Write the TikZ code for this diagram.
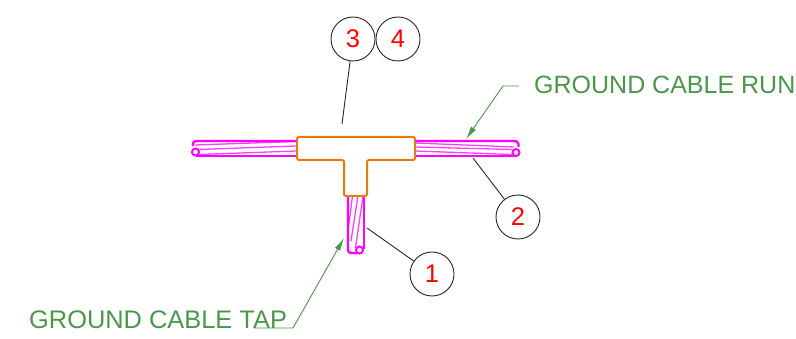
\documentclass[tikz,border=0pt]{standalone}
\usepackage{fontspec}
\setmainfont{Liberation Sans}
\usetikzlibrary{arrows.meta}
\definecolor{leadgreen}{RGB}{76,150,76}
\definecolor{fitorange}{RGB}{232,120,16}
\definecolor{cablemag}{RGB}{255,0,255}
\tikzset{
  x=1pt,y=-1pt,
  balloon/.style={circle,draw=black!85,line width=0.9pt,minimum size=44pt,inner sep=0pt,text=red,font=\fontsize{25.5}{25}\selectfont},
  leader/.style={draw=black!85,line width=0.9pt},
  callout/.style={text=leadgreen,font=\fontsize{25}{25}\selectfont,inner sep=0pt,anchor=base west},
  greenline/.style={draw=leadgreen,line width=0.9pt},
  greenarrow/.style={greenline,-{Latex[length=13pt,width=6pt]}},
  cableedge/.style={draw=cablemag,line width=2.4pt,line join=round},
  strand/.style={draw=cablemag!75,line width=1.3pt},
  ringend/.style={draw=cablemag,line width=2pt},
  fitting/.style={draw=fitorange,line width=2pt,line join=round,rounded corners=1.5pt}
}
\begin{document}
\begin{tikzpicture}
\useasboundingbox (0,0) rectangle (796,339);
% left cable
\draw[strand] (195,145) -- (296,141.5);
\draw[strand] (198,149.5) -- (296,146);
\draw[strand] (199,154.5) -- (296,151);
\draw[cableedge] (296,141) -- (197,141) .. controls (193.5,141) and (192.5,143) .. (193,146);
\draw[cableedge] (296,156) -- (196,156);
\draw[ringend] (195.5,152) circle[radius=3.5];
% right cable
\draw[strand] (415,143) -- (514,147);
\draw[strand] (415,147) -- (512,149.5);
\draw[strand] (415,151) -- (512,154.5);
\draw[cableedge] (415,141) -- (514,141) .. controls (517.5,141) and (519,143) .. (518.5,147);
\draw[cableedge] (415,156) -- (516,156);
\draw[ringend] (516,152.5) circle[radius=3.5];
% tap cable
\draw[strand] (352.5,196) -- (348.5,227);
\draw[strand] (358,196) -- (351,241);
\draw[strand] (363,196) -- (355.5,248);
\draw[cableedge] (348,196) -- (348,250) .. controls (348,252.5) and (349.5,253) .. (352,253) -- (358,253);
\draw[cableedge] (364,196) -- (364,249);
\draw[ringend] (359.5,250) circle[radius=3.5];
% T fitting
\draw[fitting] (297,137) -- (415,137) -- (415,160) -- (367,160) -- (367,196) -- (344,196) -- (344,160) -- (297,160) -- cycle;
% balloons
\node[balloon] (b3) at (353,39) {3};
\node[balloon] (b4) at (398,39) {4};
\node[balloon] (b2) at (518,217) {2};
\node[balloon] (b1) at (432,274) {1};
\coordinate (t3) at (342,124);
\coordinate (t2) at (473,158);
\coordinate (t1) at (367,228);
\draw[leader] (b3) -- (t3);
\draw[leader] (b2) -- (t2);
\draw[leader] (b1) -- (t1);
% callouts
\node[callout] (run) at (534,94) {GROUND CABLE RUN};
\node[callout,font=\fontsize{25.4}{25}\selectfont] (tap) at (29,329) {GROUND CABLE TAP};
\coordinate (r1) at (519,86);
\coordinate (r2) at (503,86);
\coordinate (r3) at (466,139);
\coordinate (a1) at (254,328);
\coordinate (a2) at (293,328);
\coordinate (a3) at (344,238);
\draw[greenarrow] (r1) -- (r2) -- (r3);
\draw[greenarrow] (a1) -- (a2) -- (a3);
\end{tikzpicture}
\end{document}
